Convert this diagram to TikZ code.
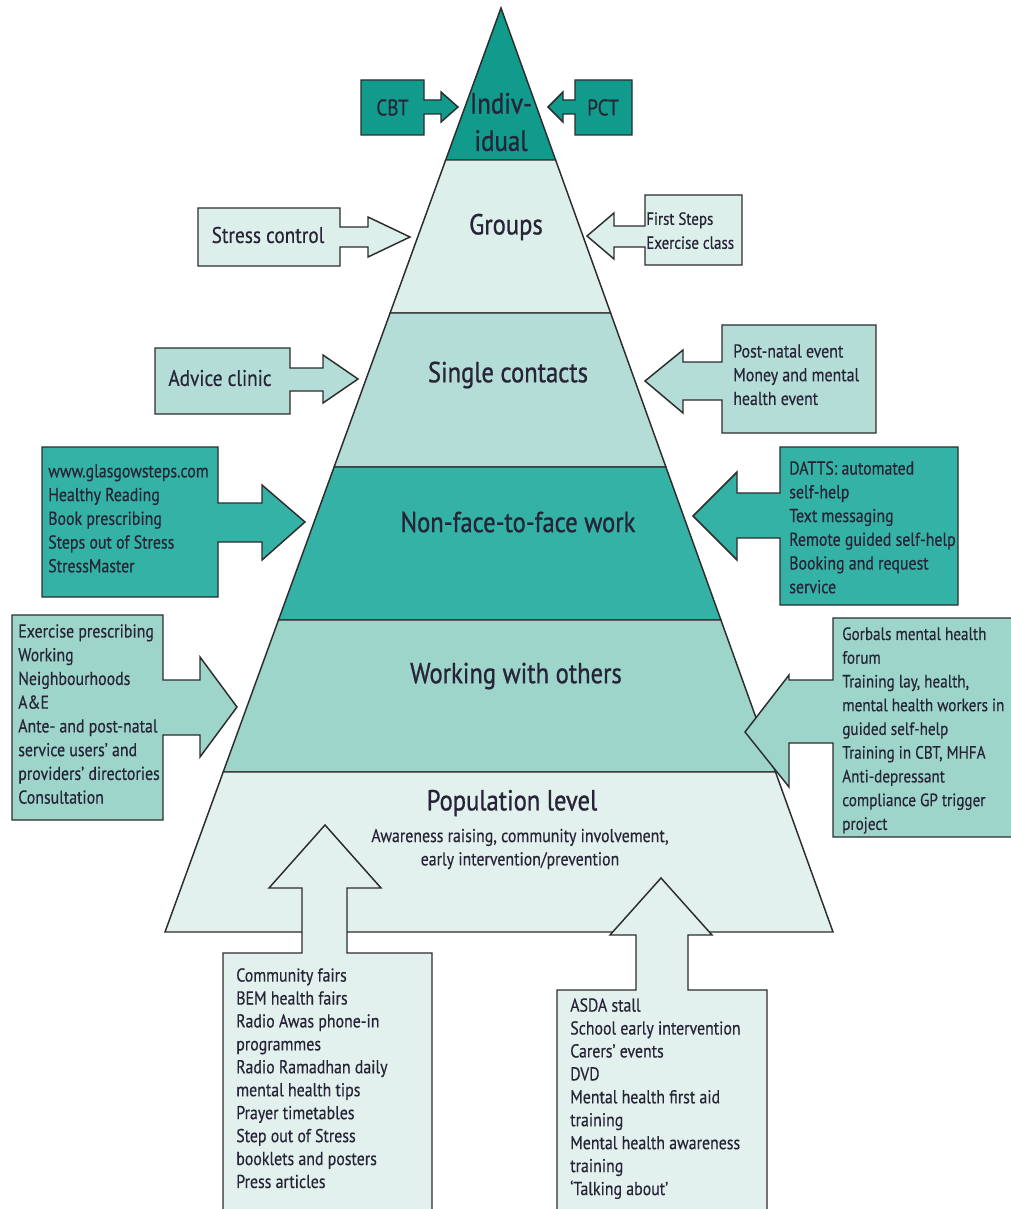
\documentclass[tikz,border=0pt]{standalone}
\usepackage{fontspec}
\setmainfont{PT Sans}[FakeStretch=0.85,FakeBold=0.4]
\newfontfamily\titlefont{PT Sans}[FakeStretch=0.85,FakeBold=0.9]
\definecolor{edgecol}{RGB}{45,45,45}
\definecolor{txtcol}{RGB}{40,36,55}
\definecolor{darkteal}{RGB}{16,155,140}
\definecolor{midteal}{RGB}{51,178,165}
\definecolor{singlecol}{RGB}{179,221,214}
\definecolor{workcol}{RGB}{157,213,203}
\definecolor{groupcol}{RGB}{221,239,235}
\definecolor{popcol}{RGB}{226,241,238}
\begin{document}
\begin{tikzpicture}[x=0.75pt,y=-0.75pt,
  shapeline/.style={draw=edgecol,line width=1.1pt,line join=miter},
  band/.style={shapeline},
  title/.style={text=txtcol,font=\titlefont\fontsize{21.7}{25}\selectfont,inner sep=0pt},
  tag/.style={text=txtcol,font=\fontsize{17}{20}\selectfont,inner sep=0pt},
  list/.style={text=txtcol,font=\fontsize{14}{17.8}\selectfont,align=left,anchor=north west,inner sep=0pt},
  bottomlist/.style={text=txtcol,font=\fontsize{14}{17.2}\selectfont,align=left,anchor=north west,inner sep=0pt},
  smalllist/.style={text=txtcol,font=\fontsize{13.2}{18}\selectfont,align=left,anchor=north west,inner sep=0pt}]
\useasboundingbox (0,0) rectangle (1010,1209);
\fill[white] (0,0) rectangle (1010,1209);
% pyramid corner coordinates
\coordinate (apex) at (501,8);
\coordinate (l1) at (445.7,160); \coordinate (r1) at (555.6,160);
\coordinate (l2) at (390.1,313); \coordinate (r2) at (610.6,313);
\coordinate (l3) at (334.1,467); \coordinate (r3) at (665.9,467);
\coordinate (l4) at (278.5,620); \coordinate (r4) at (720.9,620);
\coordinate (l5) at (223.2,772); \coordinate (r5) at (775.5,772);
\coordinate (l6) at (165,932);   \coordinate (r6) at (833,932);
% bands
\draw[band,fill=darkteal] (apex) -- (r1) -- (l1) -- cycle;
\draw[band,fill=groupcol] (l1) -- (r1) -- (r2) -- (l2) -- cycle;
\draw[band,fill=singlecol] (l2) -- (r2) -- (r3) -- (l3) -- cycle;
\draw[band,fill=midteal] (l3) -- (r3) -- (r4) -- (l4) -- cycle;
\draw[band,fill=workcol] (l4) -- (r4) -- (r5) -- (l5) -- cycle;
\draw[band,fill=popcol] (l5) -- (r5) -- (r6) -- (l6) -- cycle;
% level titles
\node[text=txtcol,font=\titlefont\fontsize{22}{28}\selectfont,align=center,inner sep=0pt] (indiv) at (501,122) {Indiv-\\idual};
\node[title] (groups) at (506,227) {Groups};
\node[title] (single) at (508,375) {Single contacts};
\node[title] (nonface) at (518,522) {Non-face-to-face work};
\node[title] (working) at (516,676) {Working with others};
\node[title] (poptitle) at (512,803) {Population level};
\node[text=txtcol,font=\fontsize{14}{17.5}\selectfont,align=center,inner sep=0pt] (popsub) at (520,849) {Awareness raising, community involvement,\\early intervention/prevention};
% CBT callout
\draw[shapeline,fill=darkteal] (361,80) -- (424,80) -- (424,100) -- (441,100) -- (441,92) -- (458,107) -- (441,122) -- (441,114) -- (424,114) -- (424,135) -- (361,135) -- cycle;
\node[tag] (cbt) at (392.5,107.5) {CBT};
% PCT callout
\draw[shapeline,fill=darkteal] (632,80) -- (575,80) -- (575,100) -- (563,100) -- (563,92) -- (548,107) -- (563,122) -- (563,114) -- (575,114) -- (575,135) -- (632,135) -- cycle;
\node[tag] (pct) at (603,107.5) {PCT};
% Stress control callout
\draw[shapeline,fill=groupcol] (198,208) -- (340,208) -- (340,227) -- (368,227) -- (368,217) -- (410,237) -- (368,257) -- (368,247) -- (340,247) -- (340,266) -- (198,266) -- cycle;
\node[tag] (stress) at (268,235) {Stress control};
% First steps callout
\draw[shapeline,fill=groupcol] (742,195) -- (645,195) -- (645,226) -- (614,226) -- (614,213) -- (587,236) -- (614,259) -- (614,247) -- (645,247) -- (645,265) -- (742,265) -- cycle;
\node[smalllist] (firststeps) at (646,212) {First Steps\\Exercise class};
% Advice clinic callout
\draw[shapeline,fill=singlecol] (155,348) -- (290,348) -- (290,368) -- (323,368) -- (323,355) -- (358,379) -- (323,403) -- (323,391) -- (290,391) -- (290,414) -- (155,414) -- cycle;
\node[tag] (advice) at (220,378) {Advice clinic};
% Post-natal callout
\draw[shapeline,fill=singlecol] (876,325) -- (722,325) -- (722,362) -- (683,362) -- (683,350) -- (645,381) -- (683,413) -- (683,400) -- (722,400) -- (722,433) -- (876,433) -- cycle;
\node[list] (postnatal) at (733,344) {Post-natal event\\Money and mental\\health event};
% glasgowsteps callout
\draw[shapeline,fill=midteal] (42,447) -- (218,447) -- (218,503) -- (262,503) -- (262,485) -- (305,522) -- (262,560) -- (262,542) -- (218,542) -- (218,597) -- (42,597) -- cycle;
\node[list] (glasgow) at (48,464) {www.glasgowsteps.com\\Healthy Reading\\Book prescribing\\Steps out of Stress\\StressMaster};
% DATTS callout
\draw[shapeline,fill=midteal] (958,447) -- (780,447) -- (780,493) -- (737,493) -- (737,472) -- (693,516) -- (737,560) -- (737,538) -- (780,538) -- (780,605) -- (958,605) -- cycle;
\node[list] (datts) at (789,461) {DATTS: automated\\self-help\\Text messaging\\Remote guided self-help\\Booking and request\\service};
% Exercise prescribing callout
\draw[shapeline,fill=workcol] (12,615) -- (163,615) -- (163,680) -- (200,680) -- (200,657) -- (237,707) -- (200,757) -- (200,735) -- (163,735) -- (163,820) -- (12,820) -- cycle;
\node[list] (exercise) at (18,624) {Exercise prescribing\\Working\\Neighbourhoods\\A\&E\\Ante- and post-natal\\service users' and\\providers' directories\\Consultation};
% Gorbals callout
\draw[shapeline,fill=workcol] (1014,618) -- (833,618) -- (833,680) -- (789,680) -- (789,675) -- (745,732) -- (789,787) -- (789,743) -- (833,743) -- (833,837) -- (1014,837) -- cycle;
\node[list,font=\fontsize{13.4}{17.8}\selectfont] (gorbals) at (842,627) {Gorbals mental health\\forum\\Training lay, health,\\mental health workers in\\guided self-help\\Training in CBT, MHFA\\Anti-depressant\\compliance GP trigger\\project};
% bottom left callout
\draw[shapeline,fill=popcol] (223,1220) -- (223,953) -- (302,953) -- (302,888) -- (269,888) -- (325,825) -- (381,888) -- (347,888) -- (347,953) -- (432,953) -- (432,1220);
\node[bottomlist] (commfairs) at (236,968) {Community fairs\\BEM health fairs\\Radio Awas phone-in\\programmes\\Radio Ramadhan daily\\mental health tips\\Prayer timetables\\Step out of Stress\\booklets and posters\\Press articles};
% bottom right callout
\draw[shapeline,fill=popcol] (557,1220) -- (557,990) -- (636,990) -- (636,935) -- (610,935) -- (661,878) -- (712,935) -- (688,935) -- (688,990) -- (767,990) -- (767,1220);
\node[bottomlist] (asda) at (570,998) {ASDA stall\\School early intervention\\Carers' events\\DVD\\Mental health first aid\\training\\Mental health awareness\\training\\`Talking about'};
\end{tikzpicture}
\end{document}
